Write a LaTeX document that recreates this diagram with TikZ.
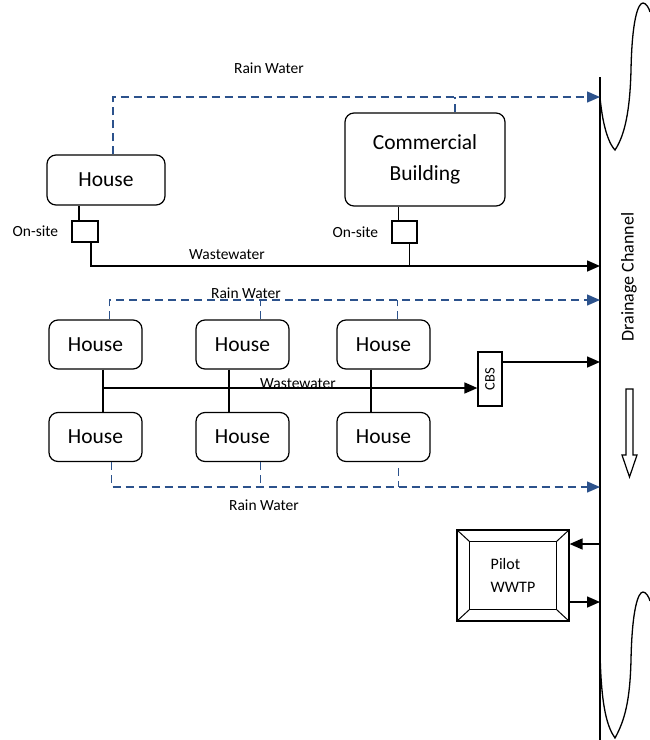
\documentclass[tikz,border=0pt]{standalone}
\usepackage{fontspec}
\setmainfont{Carlito}
\usetikzlibrary{arrows.meta, positioning}
\definecolor{rainblue}{RGB}{44,82,140}
\tikzstyle{unit} = [draw, rectangle, rounded corners=9pt, line width=1.2pt, font=\fontsize{21.5}{31}\selectfont, inner sep=2pt]
\tikzstyle{house} = [unit, minimum width=93pt, minimum height=49pt]
\tikzstyle{tank} = [draw, rectangle, line width=1.2pt, inner sep=0pt]
\tikzstyle{label} = [font=\fontsize{15.5}{18}\selectfont, inner sep=1pt]
\tikzstyle{link} = [line width=1.3pt]
\tikzstyle{pipe} = [line width=1.6pt, -{Triangle[length=13pt, width=11pt]}]
\tikzstyle{rain} = [draw=rainblue, line width=1.4pt, dash pattern=on 8pt off 5pt]
\tikzstyle{rainpipe} = [rain, -{Triangle[length=13pt, width=11pt, fill=rainblue]}]

\begin{document}
\begin{tikzpicture}[x=1pt, y=-1pt]
    \useasboundingbox (0,0) rectangle (650,740);

    % Drainage channel.
    \coordinate (ch top) at (600,77);
    \coordinate (ch bot) at (600,740);
    \draw [line width=1.5pt] (ch top) -- (ch bot);
    \draw [line width=1.3pt] (600,97) .. controls (603,130) and (610,145) .. (615,150)
        .. controls (625,135) and (630,110) .. (631,70)
        .. controls (632,20) and (638,3) .. (643,3)
        .. controls (646,3) and (649,8) .. (650,12);
    \draw [line width=1.3pt] (600,650) .. controls (601,710) and (608,728) .. (615,738)
        .. controls (625,720) and (630,700) .. (631,660)
        .. controls (632,610) and (638,592) .. (643,592)
        .. controls (646,592) and (649,597) .. (650,601);
    \node (chan) [font=\fontsize{18}{20}\selectfont, rotate=90] at (629,277) {Drainage Channel};
    \draw [line width=1.2pt] (626,389) -- (633,389) -- (633,455) -- (637,455) -- (629.5,477)
        -- (622,455) -- (626,455) -- cycle;

    % Top: single house and commercial building.
    \node (house) [unit, minimum width=118pt, minimum height=50pt] at (106,180) {House};
    \node (comm) [unit, minimum width=160pt, minimum height=93pt, align=center] at (425,159.5) {Commercial\\Building};
    \node (os1) [tank, minimum width=26pt, minimum height=21pt] at (85,231.5) {};
    \node (os2) [tank, minimum width=25pt, minimum height=22pt] at (404.5,232) {};
    \node (os1 l) [label, left=12pt of os1] {On-site};
    \node (os2 l) [label, left=12pt of os2] {On-site};

    \coordinate (rain1) at (600,97);
    \coordinate (ww1) at (600,266);
    \coordinate (hs top) at ([xshift=7pt]house.north);
    \coordinate (cb top) at ([xshift=30pt]comm.north);
    \coordinate (os1 in) at ([xshift=-6pt]os1.north);
    \coordinate (os1 out) at ([xshift=6pt]os1.south);
    \coordinate (os2 in) at ([xshift=-6pt]os2.north);
    \coordinate (os2 out) at ([xshift=5pt]os2.south);

    \draw [rainpipe] (hs top) |- (rain1);
    \draw [rain] (cb top) -- (cb top |- rain1);
    \node (rw1) [label] at (269,68) {Rain Water};
    \draw [link] (os1 in) -- (os1 in |- house.south);
    \draw [link] (os2 in) -- (os2 in |- comm.south);
    \draw [pipe] (os1 out) |- (ww1);
    \draw [link] (os2 out) -- (os2 out |- ww1);
    \node (ww1 l) [label] at (227,255) {Wastewater};

    % Middle: two rows of houses with a CBS.
    \node (h11) [house] at (95.5,344.5) {House};
    \node (h12) [house] at (242.5,344.5) {House};
    \node (h13) [house] at (383.5,344.5) {House};
    \node (h21) [house] at (95.5,437) {House};
    \node (h22) [house] at (242.5,437) {House};
    \node (h23) [house] at (383.5,437) {House};
    \node (cbs) [tank, minimum width=24pt, minimum height=54pt] at (490,379)
        {\rotatebox{90}{\fontsize{14.5}{16}\selectfont CBS}};

    \coordinate (rain2) at (600,300);
    \coordinate (rain3) at (600,487);
    \coordinate (ww2) at (600,362);
    \coordinate (r11) at ([xshift=14pt]h11.north);
    \coordinate (r12) at ([xshift=18pt]h12.north);
    \coordinate (r13) at ([xshift=14pt]h13.north);
    \coordinate (r21) at ([xshift=16pt]h21.south);
    \coordinate (r22) at ([xshift=18pt]h22.south);
    \coordinate (r23) at ([xshift=15pt,yshift=-6pt]h23.south);
    \coordinate (s1) at ([xshift=7.5pt]h11.south);
    \coordinate (s2) at ([xshift=-13.5pt]h12.south);
    \coordinate (s3) at ([xshift=-12.5pt]h13.south);
    \coordinate (cbs in) at ([yshift=-9pt]cbs.west);

    \draw [rainpipe] (r11) |- (rain2);
    \draw [rain] (r12) -- (r12 |- rain2);
    \draw [rain] (r13) -- (r13 |- rain2);
    \draw [rainpipe] (r21) |- (rain3);
    \draw [rain] (r22) -- (r22 |- rain3);
    \draw [rain] (r23) -- (r23 |- rain3);
    \node (rw2) [label] at (246,293) {Rain Water};
    \node (rw3) [label] at (264,505) {Rain Water};

    \draw [link] (s1) -- (s1 |- h21.north);
    \draw [link] (s2) -- (s2 |- h22.north);
    \draw [link] (s3) -- (s3 |- h23.north);
    \draw [pipe] (s1 |- cbs in) -- (cbs in);
    \draw [pipe] (cbs.east |- ww2) -- (ww2);
    \node (ww2 l) [label] at (298,384) {Wastewater};

    % Pilot plant.
    \node (wwtp) [draw, line width=1.2pt, minimum width=112pt, minimum height=91pt, align=left,
        font=\fontsize{16}{23}\selectfont] at (513,575.5) {Pilot\\ WWTP};
    \draw [line width=1.2pt] ([shift={(13pt,-12pt)}]wwtp.north west) rectangle ([shift={(-13pt,12pt)}]wwtp.south east);
    \foreach \c/\dx/\dy in {north west/13/-12, north east/-13/-12, south west/13/12, south east/-13/12}
        \draw [line width=1pt] (wwtp.\c) -- ([shift={(\dx pt,\dy pt)}]wwtp.\c);
    \coordinate (in1) at (600,544);
    \coordinate (out1) at (600,602);
    \draw [pipe] (in1) -- (in1 -| wwtp.east);
    \draw [pipe] (out1 -| wwtp.east) -- (out1);
\end{tikzpicture}
\end{document}
